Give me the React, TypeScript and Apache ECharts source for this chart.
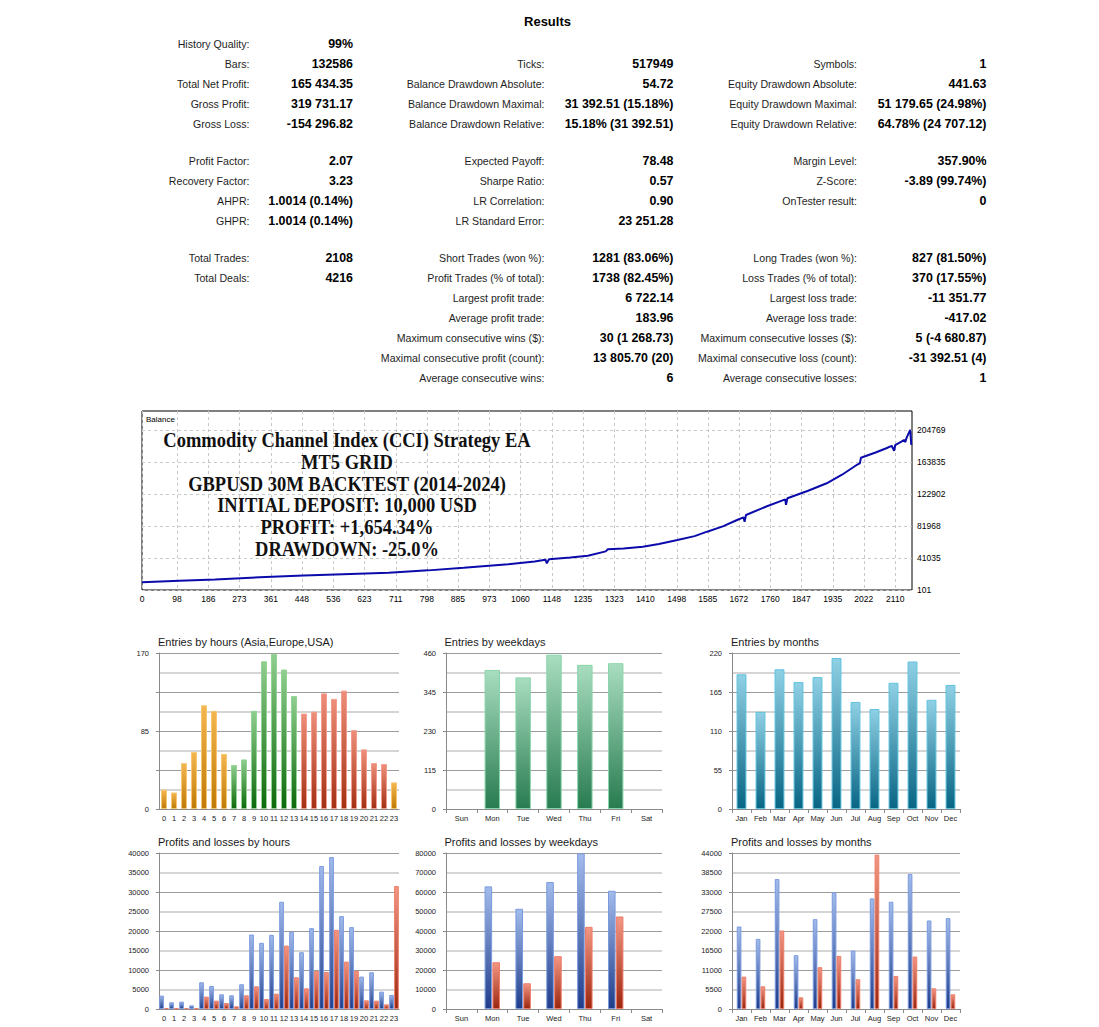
import React, { useEffect, useRef } from "react";
import * as echarts from "echarts";

// ---------- report table ----------
const reportTitle = "Results";
const statsLeft: (string[] | null)[] = [
  ["History Quality:", "99%"],
  ["Bars:", "132586"],
  ["Total Net Profit:", "165 434.35"],
  ["Gross Profit:", "319 731.17"],
  ["Gross Loss:", "-154 296.82"],
  ["Profit Factor:", "2.07"],
  ["Recovery Factor:", "3.23"],
  ["AHPR:", "1.0014 (0.14%)"],
  ["GHPR:", "1.0014 (0.14%)"],
  ["Total Trades:", "2108"],
  ["Total Deals:", "4216"],
  null, null, null, null, null,
];
const statsMid: (string[] | null)[] = [
  null,
  ["Ticks:", "517949"],
  ["Balance Drawdown Absolute:", "54.72"],
  ["Balance Drawdown Maximal:", "31 392.51 (15.18%)"],
  ["Balance Drawdown Relative:", "15.18% (31 392.51)"],
  ["Expected Payoff:", "78.48"],
  ["Sharpe Ratio:", "0.57"],
  ["LR Correlation:", "0.90"],
  ["LR Standard Error:", "23 251.28"],
  ["Short Trades (won %):", "1281 (83.06%)"],
  ["Profit Trades (% of total):", "1738 (82.45%)"],
  ["Largest profit trade:", "6 722.14"],
  ["Average profit trade:", "183.96"],
  ["Maximum consecutive wins ($):", "30 (1 268.73)"],
  ["Maximal consecutive profit (count):", "13 805.70 (20)"],
  ["Average consecutive wins:", "6"],
];
const statsRight: (string[] | null)[] = [
  null,
  ["Symbols:", "1"],
  ["Equity Drawdown Absolute:", "441.63"],
  ["Equity Drawdown Maximal:", "51 179.65 (24.98%)"],
  ["Equity Drawdown Relative:", "64.78% (24 707.12)"],
  ["Margin Level:", "357.90%"],
  ["Z-Score:", "-3.89 (99.74%)"],
  ["OnTester result:", "0"],
  null,
  ["Long Trades (won %):", "827 (81.50%)"],
  ["Loss Trades (% of total):", "370 (17.55%)"],
  ["Largest loss trade:", "-11 351.77"],
  ["Average loss trade:", "-417.02"],
  ["Maximum consecutive losses ($):", "5 (-4 680.87)"],
  ["Maximal consecutive loss (count):", "-31 392.51 (4)"],
  ["Average consecutive losses:", "1"],
];
const statsBlockSizes = [5, 4, 7];

// ---------- balance chart ----------
const balanceLabel = "Balance";
const overlayLines = [
  "Commodity Channel Index (CCI) Strategy EA",
  "MT5 GRID",
  "GBPUSD 30M BACKTEST (2014-2024)",
  "INITIAL DEPOSIT: 10,000 USD",
  "PROFIT: +1,654.34%",
  "DRAWDOWN: -25.0%",
];
const balanceXTicks = [0, 98, 186, 273, 361, 448, 536, 623, 711, 798, 885, 973, 1060, 1148, 1235, 1323, 1410, 1498, 1585, 1672, 1760, 1847, 1935, 2022, 2110];
const balanceYTicks = [101, 41035, 81968, 122902, 163835, 204769];
const balanceIdx = [0, 105, 205, 329, 453, 563, 691, 802, 901, 1026, 1100, 1130, 1134, 1140, 1200, 1249, 1299, 1305, 1349, 1403, 1448, 1500, 1548, 1583, 1627, 1667, 1685, 1688, 1692, 1747, 1802, 1804, 1808, 1866, 1918, 1961, 2002, 2011, 2014, 2055, 2085, 2100, 2107, 2110, 2136, 2138, 2142, 2152, 2155];
const balanceVal = [10000, 11800, 13600, 16350, 18500, 20300, 22230, 25200, 28500, 32970, 36500, 38800, 34300, 39400, 41800, 43980, 49500, 52160, 53300, 55490, 58800, 64060, 69000, 74680, 81500, 89650, 93000, 87470, 96040, 106500, 116000, 109000, 117400, 127000, 136600, 147500, 160000, 162000, 169300, 176000, 181400, 184500, 178000, 185500, 192000, 189000, 195000, 204800, 185600];

// ---------- distribution charts ----------
const chartTitles = [
  "Entries by hours (Asia,Europe,USA)",
  "Entries by weekdays",
  "Entries by months",
  "Profits and losses by hours",
  "Profits and losses by weekdays",
  "Profits and losses by months",
];
const hours = ["0", "1", "2", "3", "4", "5", "6", "7", "8", "9", "10", "11", "12", "13", "14", "15", "16", "17", "18", "19", "20", "21", "22", "23"];
const weekdays = ["Sun", "Mon", "Tue", "Wed", "Thu", "Fri", "Sat"];
const months = ["Jan", "Feb", "Mar", "Apr", "May", "Jun", "Jul", "Aug", "Sep", "Oct", "Nov", "Dec"];

const hourSession = ["asia", "asia", "asia", "asia", "asia", "asia", "asia", "europe", "europe", "europe", "europe", "europe", "europe", "europe", "usa", "usa", "usa", "usa", "usa", "usa", "usa", "usa", "usa", "asia"];
const hourEntries = [21, 18, 50, 62, 113, 107, 60, 48, 54, 107, 161, 169, 152, 123, 104, 106, 126, 120, 129, 86, 65, 50, 49, 29];
const weekdayEntries = [null, 410, 388, 455, 425, 430, null];
const monthEntries = [190, 137, 197, 179, 186, 213, 151, 141, 178, 208, 154, 175];

const hourProfits = [3430, 1710, 1880, 940, 6850, 5910, 3770, 3510, 6340, 19100, 16960, 19010, 27500, 19790, 14560, 20730, 36660, 38970, 23810, 20990, 8310, 9420, 4450, 3600];
const hourLosses = [260, 200, 260, 170, 3170, 2140, 1540, 690, 3510, 5820, 2570, 3940, 16270, 8140, 5310, 9760, 9510, 20300, 12160, 9760, 2230, 2140, 1200, 31520];
const weekdayProfits = [null, 62870, 51390, 65100, 79800, 60640, null];
const weekdayLosses = [null, 23980, 13190, 27070, 42140, 47450, null];
const monthProfits = [23270, 19790, 36650, 15170, 25340, 32880, 16490, 31190, 30240, 38060, 24970, 25630];
const monthLosses = [9140, 6410, 22140, 3300, 11780, 14980, 8390, 43530, 9330, 14790, 5840, 4150];

const hourEntryTicks = [0, 85, 170];
const weekdayEntryTicks = [0, 115, 230, 345, 460];
const monthEntryTicks = [0, 55, 110, 165, 220];
const hourPLTicks = [0, 5000, 10000, 15000, 20000, 25000, 30000, 35000, 40000];
const weekdayPLTicks = [0, 10000, 20000, 30000, 40000, 50000, 60000, 70000, 80000];
const monthPLTicks = [0, 5500, 11000, 16500, 22000, 27500, 33000, 38500, 44000];

// ---------- layout / style ----------
const SANS = '"Liberation Sans", Arial, sans-serif';
const SERIF = '"Liberation Serif", "Times New Roman", serif';
const ROW_TOPS = [43.5, 160.5, 257.5];
const ROW_STEP = 20;
const COLS = [
  { labelX: 249.5, valueX: 353 },
  { labelX: 544.5, valueX: 673.5 },
  { labelX: 857, valueX: 986.5 },
];
const PANEL_X = [
  { left: 159, width: 240 },
  { left: 446, width: 216 },
  { left: 732, width: 228 },
];
const PANEL_TOP = [653, 853];
const PANEL_H = 156;
const TITLE_X = [158, 444.5, 731];
const TITLE_Y = [642, 842];

const plain = (v: number) => String(v);

const grad = (top: string, bottom: string) =>
  new echarts.graphic.LinearGradient(0, 0, 0, 1, [
    { offset: 0, color: top },
    { offset: 1, color: bottom },
  ]);

const sessionStyle: Record<string, any> = {
  asia: { color: grad("#f4b650", "#c07a06"), borderColor: "#f7c671", borderWidth: 1 },
  europe: { color: grad("#8fce8f", "#0c690c"), borderColor: "#93d493", borderWidth: 1 },
  usa: { color: grad("#ee8e7a", "#a33014"), borderColor: "#f29e8c", borderWidth: 1 },
};
const weekdayStyle = { color: grad("#a8ddc0", "#287b50"), borderColor: "#88d5aa", borderWidth: 1 };
const monthStyle = { color: grad("#8fd0e4", "#086584"), borderColor: "#5fc2de", borderWidth: 1 };
const profitStyle = { color: grad("#a2bbec", "#1f3d8a"), borderColor: "#7a9ade", borderWidth: 1 };
const lossStyle = { color: grad("#f39784", "#9a260e"), borderColor: "#ee7c68", borderWidth: 1 };

function txt(x: number, y: number, text: string, size: number, opts: any = {}) {
  const align = opts.align || "left";
  return {
    type: "text",
    x,
    y,
    z: 100,
    silent: true,
    scaleY: opts.scaleY || 1,
    style: {
      text,
      fill: opts.fill || "#1c1c1c",
      fontSize: size,
      fontFamily: opts.family || SANS,
      fontWeight: opts.weight || "normal",
      align,
      textAlign: align,
      verticalAlign: "middle",
      textVerticalAlign: "middle",
    },
  };
}

function buildTableGraphics() {
  const els: any[] = [];
  els.push(txt(547.5, 21.5, reportTitle, 13, { weight: "bold", align: "center", fill: "#000" }));
  const rowY: number[] = [];
  statsBlockSizes.forEach((n, b) => {
    for (let i = 0; i < n; i++) rowY.push(ROW_TOPS[b] + i * ROW_STEP);
  });
  [statsLeft, statsMid, statsRight].forEach((col, c) => {
    col.forEach((item, r) => {
      if (!item) return;
      els.push(txt(COLS[c].labelX, rowY[r], item[0], 10.6, { align: "right", fill: "#1e1e1e" }));
      els.push(txt(COLS[c].valueX, rowY[r], item[1], 12.4, { align: "right", weight: "bold", fill: "#000" }));
    });
  });
  return els;
}

function catAxis(gridIndex: number, data: string[], ticks: boolean) {
  return {
    type: "category",
    gridIndex,
    data,
    axisLine: { show: true, lineStyle: { color: "#8a8a8a", width: 1 } },
    axisTick: { show: ticks, length: 4, lineStyle: { color: "#8a8a8a" } },
    axisLabel: { fontSize: 7.5, color: "#222", margin: 5, fontFamily: SANS, interval: 0 },
    splitLine: { show: false },
  };
}

function valAxis(gridIndex: number, max: number, major: number, labels: number[]) {
  return {
    type: "value",
    gridIndex,
    min: 0,
    max,
    interval: major,
    axisLine: { show: true, lineStyle: { color: "#8a8a8a", width: 1 } },
    axisTick: { show: true, length: 3, lineStyle: { color: "#8a8a8a" } },
    axisLabel: { customValues: labels, formatter: plain, fontSize: 7.5, color: "#222", margin: 10, fontFamily: SANS },
    splitLine: { show: true, lineStyle: { color: "#9c9c9c", width: 1 } },
    minorTick: { show: false, splitNumber: 2 },
    minorSplitLine: { show: true, lineStyle: { color: "#d5d5d5", width: 2 } },
  };
}

export default function App() {
  const ref = useRef<HTMLDivElement>(null);

  useEffect(() => {
    if (!ref.current) return;
    const chart = echarts.init(ref.current, null, { renderer: "svg" });

    const grids: any[] = [{ left: 142, top: 411, width: 770, height: 179, show: true, borderColor: "#000", borderWidth: 1, backgroundColor: "#fff" }];
    PANEL_TOP.forEach((top) => {
      PANEL_X.forEach((p) => grids.push({ left: p.left, top, width: p.width, height: PANEL_H }));
    });

    const xAxes: any[] = [
      {
        type: "value",
        gridIndex: 0,
        min: 0,
        max: 2157,
        axisLine: { show: false },
        axisTick: { show: false, customValues: balanceXTicks },
        axisLabel: { customValues: balanceXTicks, formatter: plain, fontSize: 8.5, color: "#000", margin: 4, fontFamily: SANS },
        splitLine: { show: true, lineStyle: { color: "#c8c8c8", type: [3, 3], width: 1 } },
      },
      catAxis(1, hours, false),
      catAxis(2, weekdays, true),
      catAxis(3, months, true),
      catAxis(4, hours, false),
      catAxis(5, weekdays, true),
      catAxis(6, months, true),
    ];
    const yAxes: any[] = [
      {
        type: "value",
        gridIndex: 0,
        position: "right",
        min: 101,
        max: 229000,
        axisLine: { show: false },
        axisTick: { show: false, customValues: balanceYTicks },
        axisLabel: { customValues: balanceYTicks, formatter: plain, fontSize: 8.5, color: "#000", margin: 5, fontFamily: SANS },
        splitLine: { show: true, lineStyle: { color: "#c8c8c8", type: [3, 3], width: 1 } },
      },
      valAxis(1, 170, 42.5, hourEntryTicks),
      valAxis(2, 460, 115, weekdayEntryTicks),
      valAxis(3, 220, 55, monthEntryTicks),
      valAxis(4, 40000, 10000, hourPLTicks),
      valAxis(5, 80000, 20000, weekdayPLTicks),
      valAxis(6, 44000, 11000, monthPLTicks),
    ];

    const series: any[] = [
      {
        type: "line",
        xAxisIndex: 0,
        yAxisIndex: 0,
        data: balanceIdx.map((x, i) => [x, balanceVal[i]]),
        symbol: "none",
        showSymbol: false,
        lineStyle: { color: "#0b0bab", width: 2 },
      },
      {
        type: "bar",
        xAxisIndex: 1,
        yAxisIndex: 1,
        barCategoryGap: "40%",
        data: hourEntries.map((v, i) => ({ value: v, itemStyle: sessionStyle[hourSession[i]] })),
      },
      { type: "bar", xAxisIndex: 2, yAxisIndex: 2, barCategoryGap: "50%", itemStyle: weekdayStyle, data: weekdayEntries },
      { type: "bar", xAxisIndex: 3, yAxisIndex: 3, barCategoryGap: "48%", itemStyle: monthStyle, data: monthEntries },
      { type: "bar", xAxisIndex: 4, yAxisIndex: 4, barGap: "4%", barCategoryGap: "4%", itemStyle: profitStyle, data: hourProfits },
      { type: "bar", xAxisIndex: 4, yAxisIndex: 4, barGap: "4%", barCategoryGap: "4%", itemStyle: lossStyle, data: hourLosses },
      { type: "bar", xAxisIndex: 5, yAxisIndex: 5, barGap: "4%", barCategoryGap: "50%", itemStyle: profitStyle, data: weekdayProfits },
      { type: "bar", xAxisIndex: 5, yAxisIndex: 5, barGap: "4%", barCategoryGap: "50%", itemStyle: lossStyle, data: weekdayLosses },
      { type: "bar", xAxisIndex: 6, yAxisIndex: 6, barGap: "4%", barCategoryGap: "50%", itemStyle: profitStyle, data: monthProfits },
      { type: "bar", xAxisIndex: 6, yAxisIndex: 6, barGap: "4%", barCategoryGap: "50%", itemStyle: lossStyle, data: monthLosses },
    ];

    const graphics: any[] = buildTableGraphics();
    graphics.push(txt(146, 419.5, balanceLabel, 8, { fill: "#000" }));
    overlayLines.forEach((line, i) => {
      graphics.push(txt(347, 440.5 + i * 21.7, line, 18.5, { family: SERIF, weight: "bold", align: "center", fill: "#111", scaleY: 1.08 }));
    });
    chartTitles.forEach((t, i) => {
      graphics.push(txt(TITLE_X[i % 3], TITLE_Y[Math.floor(i / 3)], t, 11, { fill: "#1a1a1a" }));
    });

    chart.setOption({
      animation: false,
      backgroundColor: "#ffffff",
      grid: grids,
      xAxis: xAxes,
      yAxis: yAxes,
      series,
      graphic: { elements: graphics },
    });

    return () => chart.dispose();
  }, []);

  return <div ref={ref} style={{ position: "absolute", left: 0, top: 0, width: 1099, height: 1027 }} />;
}
